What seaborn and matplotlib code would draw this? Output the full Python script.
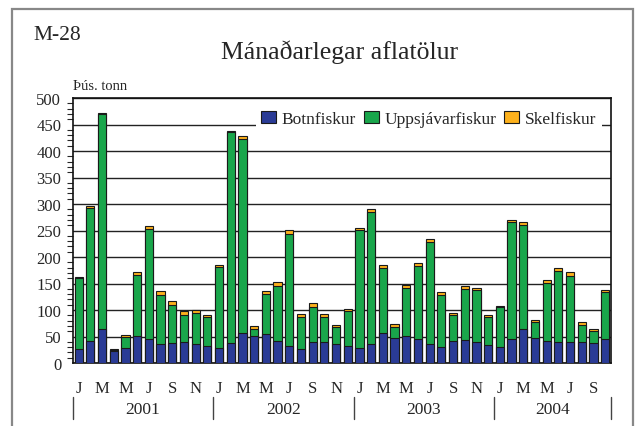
import numpy as np
import pandas as pd
import matplotlib.pyplot as plt
import matplotlib.patches as mpatches
import matplotlib.transforms as mtransforms
from matplotlib.ticker import MultipleLocator
import seaborn as sns

# monthly catch, thousand tonnes, Jan 2001 - Oct 2004
botnfiskur = [26, 41, 65, 23, 29, 51, 46, 35, 37, 39, 36, 33,
              28, 38, 57, 51, 54, 41, 33, 27, 40, 40, 35, 33,
              28, 35, 57, 48, 51, 46, 36, 31, 41, 43, 40, 34,
              31, 45, 65, 48, 41, 40, 40, 40, 38, 46]
uppsjavarfiskur = [134, 252, 404, 1, 21, 115, 206, 94, 73, 52, 58, 53,
                   153, 397, 366, 14, 77, 105, 211, 59, 66, 47, 32, 65,
                   223, 250, 123, 19, 90, 137, 192, 97, 50, 97, 97, 53,
                   74, 221, 196, 29, 110, 133, 125, 32, 22, 88]
skelfiskur = [3, 4, 3, 2, 3, 5, 7, 7, 7, 8, 6, 5,
              3, 3, 5, 5, 5, 6, 7, 7, 7, 5, 5, 4,
              3, 5, 5, 6, 7, 6, 6, 6, 4, 6, 4, 3,
              2, 4, 5, 5, 5, 6, 6, 6, 5, 4]
month_letters = ['J', '', 'M', '', 'M', '', 'J', '', 'S', '', 'N', '']
years = ['2001', '2002', '2003', '2004']
series_names = ['Botnfiskur', 'Uppsjávarfiskur', 'Skelfiskur']
colors = ['#2a3b96', '#19a64b', '#fdb11c']

n = len(botnfiskur)
df = pd.DataFrame({'idx': np.arange(n),
                   'Botnfiskur': botnfiskur,
                   'Uppsjavar': uppsjavarfiskur,
                   'Skel': skelfiskur})
df['bu'] = df['Botnfiskur'] + df['Uppsjavar']
df['total'] = df['bu'] + df['Skel']

sns.set_style('white')
plt.rcParams['font.family'] = ['Liberation Serif', 'DejaVu Serif']

fig = plt.figure(figsize=(6.37, 4.27), dpi=100)
ax = fig.add_axes([73 / 637, 1 - 364 / 427, 538 / 637, 265 / 427])

# stacked bars drawn as overlapping cumulative bars
for col, c in zip(['total', 'bu', 'Botnfiskur'], colors[::-1]):
    sns.barplot(data=df, x='idx', y=col, color=c, width=0.7,
                edgecolor='#1a1a1a', linewidth=0.8, saturation=1, ax=ax,
                zorder=3)

ax.set_xlim(-0.48, n - 0.5)
ax.set_ylim(0, 500)
ax.yaxis.set_major_locator(MultipleLocator(50))
ax.yaxis.set_minor_locator(MultipleLocator(10))
ax.yaxis.grid(True, which='major', color='#222222', lw=1.0)
ax.set_axisbelow(True)
ax.set_xlabel('')
ax.set_ylabel('')

ax.set_xticks(np.arange(n))
ax.set_xticklabels([month_letters[i % 12] for i in range(n)], fontsize=12)
ax.tick_params(axis='x', direction='out', length=7, width=0.8,
               color='#444444', pad=5)
ax.tick_params(axis='y', which='major', direction='inout', length=9,
               width=1, labelsize=12, pad=4)
ax.tick_params(axis='y', which='minor', direction='out', length=4,
               width=0.8, left=True)

for s in ax.spines.values():
    s.set_color('#111111')
    s.set_linewidth(1.2)

# year labels and separators under the month letters
trans = mtransforms.blended_transform_factory(ax.transData, ax.transAxes)
for k, yr in enumerate(years):
    start = k * 12 - 0.5
    end = min((k + 1) * 12, n) - 0.5
    ax.text((start + end) / 2, -0.172, yr, transform=trans, ha='center',
            va='center', fontsize=12.5)
for xs in [-0.5, 11.5, 23.5, 35.5, n - 0.5]:
    ax.plot([xs, xs], [-0.128, -0.21], transform=trans, color='#444444',
            lw=1, clip_on=False)

handles = [mpatches.Patch(facecolor=c, edgecolor='#1a1a1a', lw=0.8)
           for c in colors]
leg = ax.legend(handles, series_names, ncol=3, loc='center right',
                bbox_to_anchor=(0.983, 0.921), borderaxespad=0,
                frameon=True, facecolor='white',
                edgecolor='none', framealpha=1, fontsize=12.5,
                handlelength=0.85, handleheight=0.75, handletextpad=0.35,
                columnspacing=0.45, borderpad=0.3)
leg.set_zorder(5)

fig.text(33 / 637, 1 - 40 / 427, 'M-28', fontsize=15.5, ha='left',
         va='baseline')
fig.text(340 / 637, 1 - 59 / 427, 'Mánaðarlegar aflatölur', fontsize=18.5,
         ha='center', va='baseline')
fig.text(73 / 637, 1 - 90 / 427, 'Þús. tonn', fontsize=10.5, ha='left',
         va='baseline')

# outer frame
fig.patches.append(mpatches.Rectangle((12 / 637, -0.05), 621 / 637,
                                      1.05 - 10 / 427,
                                      transform=fig.transFigure,
                                      fill=False, edgecolor='#888888',
                                      lw=1.6))

fig.savefig('out.png', dpi=100)
